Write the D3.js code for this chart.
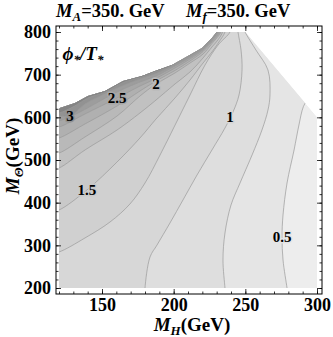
<!DOCTYPE html>
<html lang="en">
<head>
<meta charset="UTF-8">
<script src="https://d3js.org/d3.v7.min.js"></script>
<style>
  body { margin: 0; background: #fff; }
  text { font-family: "Liberation Serif", "Times New Roman", serif; font-weight: bold; fill: #000; }
  .axis text { font-size: 18px; }
  .axis line { stroke: #000; stroke-width: 0.8; }
  .contour { fill: none; stroke: #9a9a9a; stroke-width: 0.7; }
  .clabel { font-size: 15px; paint-order: stroke; stroke-width: 3px; stroke-linejoin: round; }
</style>
</head>
<body>
<script>
const width = 333, height = 337;

// region where phi*/T* exists, (M_H, M_Theta) in GeV
const boundary = [[120,200],[300,200],[300,601],[250,800],[230,800],[226.7,785.9],[219.8,762.5],
  [210,743.8],[198.8,722.7],[187,708.6],[177.9,697],[164.7,685.2],[152.1,661.7],[140.2,650],
  [131.2,633.6],[120.7,621.9],[120,618]];

// contour levels
const levels = [0.5, 0.75, 1, 1.25, 1.5, 1.75, 2, 2.25, 2.5, 2.75, 3, 3.25];

const c050 = [[279.5,190],[279.1,200],[276.3,265.6],[275.6,319.5],[276.3,371.1],[279.1,446.1],
  [284,523.4],[287.4,582],[290.5,625],[294,645]];
const c075 = [[236,190],[235.8,200],[234.4,265.6],[235.8,328.9],[240,394.5],[246.3,446.1],
  [254.7,511.7],[261.6,570.3],[265.8,617.2],[267.2,652.3],[265.8,710.9],[257.4,757.8],[249.8,800],[248,815]];
const c100 = [[180,190],[180,200],[183.5,272.7],[188.4,300.8],[197.4,352.3],[206.5,406.3],
  [216.3,464.8],[226.7,523.4],[235.8,575],[241.4,612.5],[245.6,652.3],[247.7,710.9],[247,757.8],[244.9,800],[244.5,815]];
const c125 = [[115,282],[120,284.4],[138.1,317.2],[155.6,354.7],[169.5,396.9],[180,446.1],
  [190.5,511.7],[201,582],[211.4,652.3],[221.9,722.7],[231,769.5],[239.3,800],[240,815]];
const c150 = [[115,380],[120,382.8],[139.5,429.7],[160.5,495.3],[176.5,551.6],[187.7,596.1],
  [200.9,645.3],[211.4,687.5],[220.5,727.3],[226.7,753.1],[231.6,776.6],[235.8,800],[236,815]];
const c175 = [[115,479],[120,481.3],[138.1,523.4],[160.5,570.3],[176.5,610.2],[187.7,640.6],
  [200.9,678.1],[211.4,706.3],[220.5,739.1],[226.7,764.8],[230.9,781.3],[234.1,800],[234,815]];
const c200 = [[115,515],[120,516.4],[138.1,553.9],[160.5,603.1],[176.5,650],[187.7,678.1],
  [200.9,703.9],[211.4,727.3],[220.5,748.4],[226.7,773],[233,800],[233,815]];
const c225 = [[115,550],[120,551.6],[138.1,584.4],[160.5,626.6],[176.5,661.7],[187.7,685.2],
  [200.9,709.8],[211.4,732],[220.5,754.3],[226.7,776.6],[232.3,800],[232,815]];
const c250 = [[115,576],[120,577.3],[138.1,607.8],[160.5,645.3],[176.5,673.4],[187.7,691],
  [200.9,715.6],[211.4,736.7],[220.5,757.8],[226.7,778.9],[231.6,800],[231.5,815]];
const c275 = [[115,590],[120,591.4],[134.7,612.5],[148.6,638.3],[160.5,659.4],[176.5,682.8],
  [187.7,696.9],[200.9,720.3],[211.4,740.2],[220.5,760.2],[226.7,781.3],[230.9,800],[231,815]];
const c300 = [[115,602],[120,603.1],[127.7,603.1],[138.1,631.3],[148.6,650],[160.5,668.8],
  [176.5,689.8],[187.7,702.7],[200.9,723.8],[211.4,743.8],[220.5,762.5],[226.7,783.6],[230.2,800],[230,815]];
const c325 = [[115,610],[120,610.2],[131.2,627],[140.2,645.5],[152.1,658.5],[164.7,681.5],
  [177.9,694.5],[187,706.5],[198.8,723.5],[199,740]];
const contourLines = [c050, c075, c100, c125, c150, c175, c200, c225, c250, c275, c300, c325];

// shade below the first level, then above each level
const bandColors = ["#ededed","#e5e5e5","#dedede","#d7d7d7","#d0d0d0","#c9c9c9","#c1c1c1",
  "#b9b9b9","#b0b0b0","#a7a7a7","#9d9d9d","#929292","#848484"];

const contourLabels = [
  { text: "3", x: 127.7, y: 603.1, level: 10 },
  { text: "2.5", x: 160.5, y: 645.3, level: 8 },
  { text: "2", x: 187.7, y: 678.1, level: 6 },
  { text: "1.5", x: 139.5, y: 429.7, level: 4 },
  { text: "1", x: 239.3, y: 600.8, level: 2 },
  { text: "0.5", x: 275.6, y: 319.5, level: 0 }
];

const xMajor = [150, 200, 250, 300];
const xMinor = d3.range(120, 301, 10);
const yMajor = [200, 300, 400, 500, 600, 700, 800];
const yMinor = d3.range(200, 801, 20);

const svg = d3.select("body").append("svg").attr("width", width).attr("height", height);

const x = d3.scaleLinear().domain([120, 300]).range([59, 317]);
const y = d3.scaleLinear().domain([200, 800]).range([288, 32]);

// frame sits a little outside the data range, as Mathematica pads it
const fx0 = x(120) - 3, fx1 = x(300) + 5, fy0 = y(800) - 6, fy1 = y(200) + 6;

const lin = d3.line().x(d => x(d[0])).y(d => y(d[1]));
const smooth = d3.line().x(d => x(d[0])).y(d => y(d[1])).curve(d3.curveCatmullRom.alpha(0.5));

svg.append("clipPath").attr("id", "region")
  .append("path").attr("d", lin(boundary) + "Z");

const plot = svg.append("g").attr("clip-path", "url(#region)");

plot.append("path").attr("d", lin(boundary) + "Z").attr("fill", bandColors[0]);

// area above each contour: close the curve round the upper-left, outside the region
contourLines.forEach((pts, i) => {
  const first = pts[0], last = pts[pts.length - 1];
  const close = [[last[0], 900], [100, 900], [100, first[1]]];
  const d = smooth(pts) + close.map(p => `L${x(p[0])},${y(p[1])}`).join("") + "Z";
  plot.append("path").attr("d", d).attr("fill", bandColors[i + 1]);
});

plot.selectAll(".contour")
  .data(contourLines)
  .join("path")
  .attr("class", "contour")
  .attr("d", smooth);

svg.selectAll(".clabel")
  .data(contourLabels)
  .join("text")
  .attr("class", "clabel")
  .attr("x", d => x(d.x))
  .attr("y", d => y(d.y))
  .attr("dy", "0.35em")
  .attr("text-anchor", "middle")
  .attr("stroke", d => bandColors[d.level + 1])
  .text(d => d.text);

// phi*/T* tag
const tag = svg.append("text").attr("x", x(122.5)).attr("y", y(734)).style("font-size", "19px").style("font-style", "italic");
tag.append("tspan").text("\u03D5");
tag.append("tspan").attr("dy", 4).style("font-size", "13px").text("*");
tag.append("tspan").attr("dy", -4).text("/T");
tag.append("tspan").attr("dy", 4).style("font-size", "13px").text("*");

// frame
svg.append("rect")
  .attr("x", fx0).attr("y", fy0)
  .attr("width", fx1 - fx0).attr("height", fy1 - fy0)
  .attr("fill", "none").attr("stroke", "#000").attr("stroke-width", 1);

function axis(gen, tx, ty, values, size, labels, pad) {
  const g = svg.append("g").attr("class", "axis").attr("transform", `translate(${tx},${ty})`)
    .call(gen.tickValues(values).tickSize(-size).tickPadding(pad).tickFormat(labels ? d3.format("d") : ""));
  g.select(".domain").remove();
  return g;
}
axis(d3.axisBottom(x), 0, fy1, xMinor, 2.5, false, 0);
axis(d3.axisBottom(x), 0, fy1, xMajor, 5, true, 4);
axis(d3.axisTop(x), 0, fy0, xMinor, 2.5, false, 0);
axis(d3.axisTop(x), 0, fy0, xMajor, 5, false, 0);
axis(d3.axisLeft(y), fx0, 0, yMinor, 2.5, false, 0);
axis(d3.axisLeft(y), fx0, 0, yMajor, 5, true, 5);
axis(d3.axisRight(y), fx1, 0, yMinor, 2.5, false, 0);
axis(d3.axisRight(y), fx1, 0, yMajor, 5, false, 0);

// titles
function massLabel(sel, sub, rest) {
  sel.append("tspan").style("font-style", "italic").text("M");
  sel.append("tspan").attr("dy", 4).style("font-style", "italic").style("font-size", "13px").text(sub);
  sel.append("tspan").attr("dy", -4).text(rest);
}
massLabel(svg.append("text").attr("x", 56).attr("y", 17).style("font-size", "18.5px"), "A", "=350. GeV");
massLabel(svg.append("text").attr("x", 186).attr("y", 17).style("font-size", "18.5px"), "f", "=350. GeV");

massLabel(svg.append("text").attr("x", (fx0 + fx1) / 2 + 3).attr("y", 331)
  .attr("text-anchor", "middle").style("font-size", "19px"), "H", "(GeV)");
massLabel(svg.append("text").attr("transform", `translate(19,${(fy0 + fy1) / 2 - 4}) rotate(-90)`)
  .attr("text-anchor", "middle").style("font-size", "19px"), "\u0398", "(GeV)");
</script>
</body>
</html>
